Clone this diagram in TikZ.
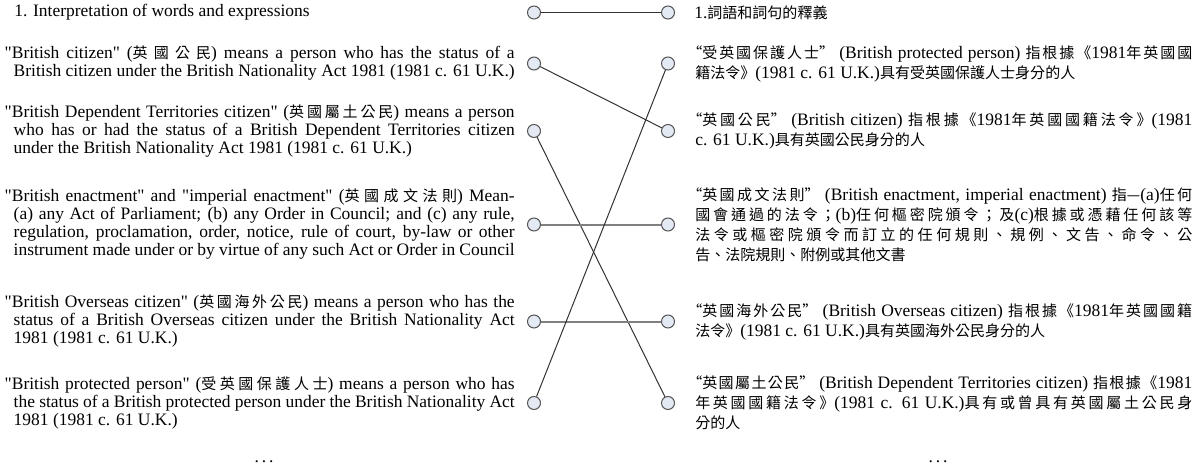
\documentclass[tikz,border=0pt]{standalone}
\usepackage{fontspec}
\setmainfont{Liberation Serif}
\newfontfamily\cjkf{Noto Sans CJK TC}[Scale=0.86]
\font\qf="Liberation Serif" at 13.1pt
\XeTeXinterchartokenstate=1
\newXeTeXintercharclass\zhcls
\newcount\zhc
\zhc="3000 \loop \XeTeXcharclass\zhc=\zhcls \ifnum\zhc<"303F \advance\zhc by 1 \repeat
\zhc="4E00 \loop \XeTeXcharclass\zhc=\zhcls \ifnum\zhc<"9FFF \advance\zhc by 1 \repeat
\zhc="FF00 \loop \XeTeXcharclass\zhc=\zhcls \ifnum\zhc<"FFEF \advance\zhc by 1 \repeat
\XeTeXinterchartoks\zhcls\zhcls={\hskip 0pt plus 4pt\relax}
\newcommand\dq{{\qf\char"22}}
\newdimen\px \px=0.75pt
\newdimen\outd
\newcommand\lnA[1]{\moveleft\outd\hbox to\dimexpr\hsize+\outd\relax{#1}}
\newcommand\lnJ[1]{\hbox to\hsize{#1}}
\newcommand\lnE[1]{\hbox{#1}}
\newcommand\Lblk[1]{\vbox{\hsize=501\px \outd=9\px \baselineskip=18\px \lineskiplimit=-\maxdimen #1}}
\newcommand\Rblk[1]{\vbox{\hsize=497\px \outd=8\px \baselineskip=20\px \lineskiplimit=-\maxdimen #1}}
\definecolor{cfill}{HTML}{E3EAF4}
\definecolor{cedge}{HTML}{555555}
\definecolor{cline}{HTML}{333333}
\definecolor{cgray}{HTML}{808080}
\begin{document}
\begin{tikzpicture}[x=0.75pt,y=-0.75pt,
  hole/.style={circle,draw=cedge,fill=cfill,line width=0.75pt,minimum size=9.75pt,inner sep=0pt},
  txt/.style={inner sep=0pt,font=\fontsize{13.1pt}{13.5pt}\selectfont},
  thinlink/.style={draw=cline,line width=0.75pt},
  graylink/.style={draw=cgray,line width=1.5pt}]
\path[use as bounding box] (0,0) rectangle (1199,474);
% circles
\node[hole] (lc1) at (534,12.5) {};
\node[hole] (rc1) at (668,12.5) {};
\node[hole] (lc2) at (534,63.5) {};
\node[hole] (rc2) at (668,63.5) {};
\node[hole] (lc3) at (534,131) {};
\node[hole] (rc3) at (668,131) {};
\node[hole] (lc4) at (534,224.5) {};
\node[hole] (rc4) at (668,224.5) {};
\node[hole] (lc5) at (534,321.5) {};
\node[hole] (rc5) at (668,321.5) {};
\node[hole] (lc6) at (534,403) {};
\node[hole] (rc6) at (668,403) {};
% links
\path[thinlink] (lc1) -- (rc1);
\path[thinlink] (lc2) -- (rc3);
\path[thinlink] (lc3) -- (rc6);
\path[graylink] (lc4) -- (rc4);
\path[graylink] (lc5) -- (rc5);
\path[thinlink] (lc6) -- (rc2);
% left texts
\node[txt,anchor=west] (l1) at (14,12.5) {1. Interpretation of words and expressions};
\node[txt,anchor=east] (l2) at (515,63.5) {\Lblk{%
\lnA{\dq British citizen\dq{} ({\cjkf 英國公民}) means a person who has the status of a}
\lnJ{British citizen under the British Nationality Act 1981 (1981 c. 61 U.K.)}}};
\node[txt,anchor=east] (l3) at (515,131) {\Lblk{%
\lnA{\dq British Dependent Territories citizen\dq{} ({\cjkf 英國屬土公民}) means a person}
\lnJ{who has or had the status of a British Dependent Territories citizen}
\lnE{under the British Nationality Act 1981 (1981 c. 61 U.K.)}}};
\node[txt,anchor=east] (l4) at (515,224.5) {\Lblk{%
\lnA{\dq British enactment\dq{} and \dq imperial enactment\dq{} ({\cjkf 英國成文法則}) Mean-}
\lnJ{(a) any Act of Parliament; (b) any Order in Council; and (c) any rule,}
\lnJ{regulation, proclamation, order, notice, rule of court, by-law or other}
\lnJ{instrument made under or by virtue of any such Act or Order in Council}}};
\node[txt,anchor=east] (l5) at (515,321.5) {\Lblk{%
\lnA{\dq British Overseas citizen\dq{} ({\cjkf 英國海外公民}) means a person who has the}
\lnJ{status of a British Overseas citizen under the British Nationality Act}
\lnE{1981 (1981 c. 61 U.K.)}}};
\node[txt,anchor=east] (l6) at (515,403) {\Lblk{%
\lnA{\dq British protected person\dq{} ({\cjkf 受英國保護人士}) means a person who has}
\lnJ{the status of a British protected person under the British Nationality Act}
\lnE{1981 (1981 c. 61 U.K.)}}};
% right texts
\node[txt,anchor=west] (r1) at (694,12.5) {1.{\cjkf 詞語和詞句的釋義}};
\node[txt,anchor=west] (r2) at (695,63.5) {\Rblk{%
\lnA{{\cjkf “受英國保護人士”} (British protected person) {\cjkf 指根據《}1981{\cjkf 年英國國}}
\lnE{{\cjkf 籍法令》}(1981 c. 61 U.K.){\cjkf 具有受英國保護人士身分的人}}}};
\node[txt,anchor=west] (r3) at (695,131) {\Rblk{%
\lnA{{\cjkf “英國公民”} (British citizen) {\cjkf 指根據《}1981{\cjkf 年英國國籍法令》}(1981}
\lnE{c. 61 U.K.){\cjkf 具有英國公民身分的人}}}};
\node[txt,anchor=west] (r4) at (695,224.5) {\Rblk{%
\lnA{{\cjkf “英國成文法則”} (British enactment, imperial enactment) {\cjkf 指—}(a){\cjkf 任何}}
\lnJ{{\cjkf 國會通過的法令；}(b){\cjkf 任何樞密院頒令；及}(c){\cjkf 根據或憑藉任何該等}}
\lnJ{{\cjkf 法令或樞密院頒令而訂立的任何規則、規例、文告、命令、公}}
\lnE{{\cjkf 告、法院規則、附例或其他文書}}}};
\node[txt,anchor=west] (r5) at (695,321.5) {\Rblk{%
\lnA{{\cjkf “英國海外公民”} (British Overseas citizen) {\cjkf 指根據《}1981{\cjkf 年英國國籍}}
\lnE{{\cjkf 法令》}(1981 c. 61 U.K.){\cjkf 具有英國海外公民身分的人}}}};
\node[txt,anchor=west] (r6) at (695,403) {\Rblk{%
\lnA{{\cjkf “英國屬土公民”} (British Dependent Territories citizen) {\cjkf 指根據《}1981}
\lnJ{{\cjkf 年英國國籍法令》}(1981 c. 61 U.K.){\cjkf 具有或曾具有英國屬土公民身}}
\lnE{{\cjkf 分的人}}}};
% ellipses
\node[txt] (dl) at (264,462) {.\,.\,.};
\node[txt] (dr) at (938,462) {.\,.\,.};
\end{tikzpicture}
\end{document}
